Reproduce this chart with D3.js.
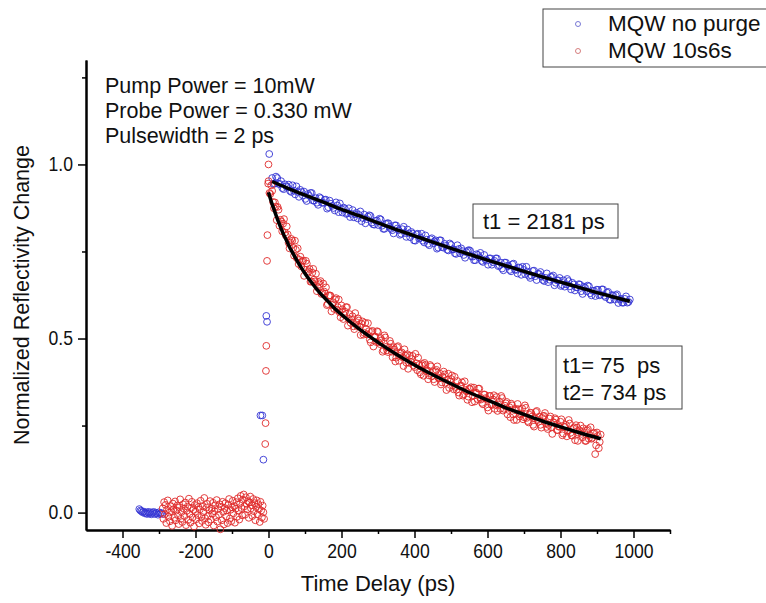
<!DOCTYPE html>
<html>
<head>
<meta charset="utf-8">
<script src="https://cdn.jsdelivr.net/npm/d3@7"></script>
<style>
  body { margin: 0; background: #fff; }
  svg { display: block; font-family: "Liberation Sans", Arial, sans-serif; }
</style>
</head>
<body>
<div id="chart"></div>
<script>
// MQW no purge: baseline before pump, rising edge, decay (two interleaved sweeps)
const bluePreStart = -354, bluePreStep = 3;
const bluePreY = [0.010,0.006,0.004,0.001,0.003,-0.002,0.000,-0.004,0.002,-0.003,0.001,-0.005,-0.001,0.002,-0.004,0.000,-0.002,-0.006,0.001,-0.003,-0.001,-0.004];
const blueRiseT = [-22,-17,-14,-6,-4,2];
const blueRiseY = [0.279,0.279,0.152,0.565,0.548,1.030];
const blueDecayStart = 10, blueDecayStep = 7;
const blueDecayY = [
  0.961,0.945,0.961,0.944,0.932,0.943,0.935,0.924,0.940,0.914,
  0.921,0.927,0.911,0.901,0.915,0.918,0.896,0.903,0.884,0.903,
  0.890,0.899,0.877,0.887,0.875,0.891,0.863,0.873,0.876,0.858,
  0.874,0.858,0.848,0.861,0.855,0.837,0.856,0.843,0.854,0.833,
  0.827,0.839,0.844,0.824,0.815,0.831,0.821,0.811,0.825,0.816,
  0.798,0.814,0.803,0.813,0.791,0.801,0.781,0.801,0.790,0.781,
  0.796,0.772,0.785,0.774,0.782,0.761,0.782,0.761,0.766,0.753,
  0.769,0.756,0.743,0.757,0.759,0.740,0.748,0.754,0.736,0.725,
  0.742,0.733,0.723,0.740,0.724,0.730,0.712,0.723,0.730,0.710,
  0.701,0.718,0.709,0.697,0.713,0.698,0.687,0.703,0.706,0.685,
  0.692,0.674,0.694,0.679,0.686,0.691,0.668,0.674,0.662,0.677,
  0.681,0.660,0.667,0.651,0.667,0.656,0.665,0.641,0.655,0.647,
  0.656,0.636,0.649,0.636,0.650,0.624,0.637,0.640,0.624,0.641,
  0.623,0.632,0.612,0.625,0.612,0.627,0.612,0.603,0.614,0.603,
  0.612
];
const blueDecay2Start = 13.5, blueDecay2Step = 7;
const blueDecay2Y = [
  0.944,0.965,0.944,0.952,0.929,0.937,0.942,0.921,0.925,0.937,
  0.907,0.921,0.922,0.895,0.910,0.918,0.896,0.890,0.906,0.890,
  0.898,0.873,0.896,0.881,0.868,0.882,0.888,0.862,0.872,0.860,
  0.849,0.869,0.857,0.845,0.865,0.846,0.831,0.850,0.852,0.828,
  0.838,0.826,0.842,0.815,0.829,0.831,0.815,0.802,0.825,0.811,
  0.801,0.821,0.792,0.802,0.806,0.782,0.799,0.787,0.801,0.776,
  0.784,0.768,0.788,0.779,0.758,0.782,0.763,0.772,0.755,0.773,
  0.756,0.745,0.768,0.745,0.751,0.732,0.752,0.752,0.735,0.725,
  0.740,0.746,0.720,0.727,0.712,0.730,0.719,0.730,0.708,0.718,
  0.696,0.718,0.708,0.693,0.715,0.697,0.704,0.683,0.697,0.706,
  0.680,0.681,0.695,0.668,0.685,0.678,0.665,0.687,0.669,0.677,
  0.653,0.667,0.674,0.654,0.649,0.671,0.650,0.660,0.638,0.647,
  0.655,0.628,0.646,0.652,0.630,0.637,0.622,0.640,0.626,0.641,
  0.619,0.634,0.611,0.623,0.624,0.602,0.614,0.603,0.621,0.605
];

// MQW 10s6s
const redPreStart = -290, redPreStep = 2;
const redPreY = [
  0.012,-0.018,0.030,-0.005,0.022,-0.030,0.008,0.035,-0.012,0.000,
  -0.025,0.018,0.004,-0.038,0.026,0.010,-0.015,0.032,-0.022,0.006,
  0.020,-0.008,-0.033,0.015,0.038,-0.018,0.002,-0.027,0.024,0.011,
  -0.010,0.029,-0.036,0.005,0.017,-0.021,0.040,-0.004,-0.029,0.013,
  0.031,-0.014,0.008,-0.040,0.022,0.003,-0.019,0.027,-0.007,0.016,
  -0.031,0.009,0.034,-0.012,-0.024,0.019,0.001,0.042,-0.016,-0.035,
  0.014,0.025,-0.009,-0.028,0.007,0.033,-0.020,0.011,-0.003,0.028,
  -0.037,0.004,0.021,-0.013,0.036,-0.026,0.010,-0.006,0.024,-0.048,
  0.017,-0.022,0.031,0.002,-0.034,0.013,0.027,-0.011,0.006,-0.030,
  0.022,0.039,-0.017,0.008,-0.025,0.015,0.034,-0.002,0.019,-0.029,
  0.011,0.030,-0.012,0.041,0.005,-0.020,0.026,0.048,0.013,-0.008,
  0.037,0.052,0.018,-0.006,0.044,0.025,0.009,0.033,-0.015,0.029,
  0.046,0.012,0.021,-0.010,0.039,0.004,0.027,-0.022,0.016,0.035,
  -0.005,0.024,0.010,-0.027,0.031,0.006,-0.014,0.020,0.001,-0.018
];
const redRiseT = [-9,-8,-7,-6,-4,-3,-1,0];
const redRiseY = [0.197,0.257,0.407,0.479,0.723,0.797,0.945,1.000];
const redDecayStart = 0, redDecayStep = 5;
const redDecayY = [
  0.952,0.915,0.924,0.874,0.879,0.878,0.824,0.836,0.830,0.804,
  0.822,0.775,0.776,0.781,0.738,0.755,0.759,0.726,0.707,0.724,
  0.698,0.715,0.693,0.663,0.689,0.669,0.686,0.647,0.656,0.628,
  0.658,0.629,0.596,0.623,0.623,0.597,0.585,0.616,0.590,0.575,
  0.595,0.556,0.577,0.590,0.557,0.545,0.564,0.527,0.547,0.558,
  0.534,0.542,0.511,0.545,0.512,0.521,0.489,0.522,0.505,0.490,
  0.519,0.484,0.495,0.467,0.503,0.466,0.474,0.485,0.446,0.468,
  0.445,0.478,0.450,0.460,0.421,0.451,0.455,0.430,0.433,0.450,
  0.418,0.429,0.445,0.403,0.423,0.393,0.424,0.409,0.394,0.420,
  0.405,0.375,0.410,0.388,0.399,0.374,0.405,0.373,0.382,0.358,
  0.384,0.365,0.390,0.353,0.345,0.363,0.374,0.340,0.352,0.324,
  0.356,0.360,0.335,0.319,0.344,0.356,0.331,0.315,0.339,0.329,
  0.302,0.335,0.311,0.325,0.298,0.332,0.310,0.298,0.329,0.298,
  0.314,0.282,0.303,0.313,0.282,0.294,0.266,0.297,0.282,0.299,
  0.274,0.301,0.263,0.281,0.286,0.252,0.271,0.292,0.261,0.252,
  0.272,0.278,0.257,0.240,0.270,0.245,0.260,0.271,0.237,0.247,
  0.261,0.222,0.246,0.252,0.235,0.256,0.222,0.242,0.208,0.244,
  0.229,0.250,0.216,0.231,0.206,0.240,0.223,0.212,0.227,0.168,
  0.230,0.185,0.224
];
const redDecay2Start = 2.5, redDecay2Step = 5;
const redDecay2Y = [
  0.918,0.940,0.892,0.891,0.840,0.870,0.841,0.808,0.843,0.796,
  0.799,0.759,0.786,0.760,0.781,0.731,0.714,0.735,0.721,0.680,
  0.723,0.688,0.700,0.664,0.700,0.664,0.636,0.662,0.665,0.631,
  0.635,0.647,0.599,0.624,0.578,0.604,0.612,0.582,0.612,0.561,
  0.584,0.568,0.590,0.537,0.570,0.554,0.535,0.573,0.536,0.552,
  0.510,0.549,0.516,0.527,0.544,0.497,0.519,0.477,0.506,0.521,
  0.489,0.501,0.462,0.509,0.476,0.461,0.493,0.462,0.475,0.434,
  0.475,0.436,0.457,0.446,0.469,0.431,0.413,0.451,0.441,0.423,
  0.456,0.409,0.424,0.397,0.427,0.430,0.406,0.383,0.424,0.392,
  0.383,0.406,0.420,0.385,0.368,0.390,0.397,0.352,0.399,0.376,
  0.394,0.354,0.361,0.378,0.336,0.365,0.336,0.377,0.348,0.333,
  0.355,0.317,0.359,0.344,0.326,0.356,0.325,0.311,0.339,0.326,
  0.293,0.335,0.309,0.337,0.309,0.292,0.319,0.335,0.293,0.307,
  0.318,0.295,0.274,0.308,0.266,0.298,0.312,0.276,0.285,0.268,
  0.308,0.272,0.259,0.287,0.276,0.247,0.289,0.266,0.275,0.244,
  0.277,0.286,0.246,0.252,0.276,0.226,0.258,0.267,0.237,0.247,
  0.268,0.227,0.246,0.219,0.266,0.229,0.221,0.245,0.251,0.206,
  0.236,0.226,0.242,0.206,0.236,0.212,0.245,0.215,0.229,0.193,
  0.220,0.203
];

// fitted curves
const blueFitT = [10,50,100,150,200,250,300,350,400,450,500,550,600,650,700,750,800,850,900,950,990];
const blueFitY = [0.951,0.933,0.912,0.892,0.871,0.852,0.832,0.813,0.795,0.777,0.759,0.742,0.725,0.709,0.693,0.677,0.662,0.647,0.632,0.618,0.607];
const redFitT = [0,10,20,30,40,50,60,70,80,90,100,120,140,160,180,200,250,300,350,400,450,500,550,600,650,700,750,800,850,910];
const redFitY = [0.920,0.886,0.856,0.828,0.802,0.780,0.758,0.739,0.720,0.703,0.687,0.658,0.632,0.610,0.588,0.569,0.526,0.489,0.455,0.424,0.396,0.370,0.345,0.323,0.301,0.282,0.263,0.246,0.230,0.212];

const xMajor = [-400,-200,0,200,400,600,800,1000];
const xMinor = [-300,-100,100,300,500,700,900,1100];
const yMajor = [0,0.5,1.0];
const yMinor = [0.25,0.75,1.25];

const seriesNames = ["MQW no purge", "MQW 10s6s"];
const infoLines = ["Pump Power = 10mW", "Probe Power = 0.330 mW", "Pulsewidth = 2 ps"];
const blueFitLabel = ["t1 = 2181 ps"];
const redFitLabel = ["t1= 75  ps", "t2= 734 ps"];

const blueColor = "#3434d4", redColor = "#e02a2a";

function uniform(start, step, ys) {
	return ys.map((v, i) => [start + i * step, v]);
}
function zipPts(ts, ys) {
	return ts.map((t, i) => [t, ys[i]]);
}

const bluePts = [].concat(
	uniform(bluePreStart, bluePreStep, bluePreY),
	zipPts(blueRiseT, blueRiseY),
	uniform(blueDecayStart, blueDecayStep, blueDecayY),
	uniform(blueDecay2Start, blueDecay2Step, blueDecay2Y));
const redPts = [].concat(
	uniform(redPreStart, redPreStep, redPreY),
	zipPts(redRiseT, redRiseY),
	uniform(redDecayStart, redDecayStep, redDecayY),
	uniform(redDecay2Start, redDecay2Step, redDecay2Y));

const W = 766, H = 603;
const svg = d3.select("#chart").append("svg")
	.attr("width", W)
	.attr("height", H);

const x = d3.scaleLinear().domain([-500, 1100]).range([86, 670]);
const y = d3.scaleLinear().domain([-0.05, 1.3]).range([530, 60]);

// squeeze tick labels a little, like the narrow font of the original
function squeeze(sel, k) {
	sel.each(function () {
		const len = this.getComputedTextLength();
		d3.select(this)
			.attr("textLength", len * k)
			.attr("lengthAdjust", "spacingAndGlyphs");
	});
}

// axes
const xAxisG = svg.append("g").attr("transform", `translate(0,${y.range()[0]})`);
xAxisG.call(d3.axisBottom(x).tickValues(xMinor).tickSize(4).tickSizeOuter(0).tickFormat(""));
xAxisG.append("g").call(d3.axisBottom(x).tickValues(xMajor).tickSize(8).tickSizeOuter(0).tickPadding(6).tickFormat(d => String(d)));

const yAxisG = svg.append("g").attr("transform", `translate(${x.range()[0]},0)`);
yAxisG.call(d3.axisLeft(y).tickValues(yMinor).tickSize(4).tickSizeOuter(0).tickFormat(""));
yAxisG.append("g").call(d3.axisLeft(y).tickValues(yMajor).tickSize(8).tickSizeOuter(0).tickPadding(5).tickFormat(d3.format(".1f")));

svg.selectAll(".domain").attr("stroke", "#000").attr("stroke-width", 2);
svg.selectAll(".tick line").attr("stroke", "#000").attr("stroke-width", 1.5);
svg.selectAll(".tick text")
	.attr("font-family", "Liberation Sans, Arial, sans-serif")
	.attr("font-size", 20)
	.attr("fill", "#111")
	.call(squeeze, 0.88);

svg.append("text")
	.attr("x", (x.range()[0] + x.range()[1]) / 2)
	.attr("y", 591)
	.attr("text-anchor", "middle")
	.attr("font-size", 22)
	.attr("fill", "#111")
	.text("Time Delay (ps)");

svg.append("text")
	.attr("transform", `translate(29,${(y.range()[0] + y.range()[1]) / 2}) rotate(-90)`)
	.attr("text-anchor", "middle")
	.attr("font-size", 21.5)
	.attr("fill", "#111")
	.text("Normalized Reflectivity Change");

// data
const pts = svg.append("g").attr("fill", "none").attr("stroke-width", 0.9);
pts.selectAll("circle.blue")
	.data(bluePts)
	.join("circle")
	.attr("class", "blue")
	.attr("cx", d => x(d[0]))
	.attr("cy", d => y(d[1]))
	.attr("r", 3.4)
	.attr("stroke", blueColor);
pts.selectAll("circle.red")
	.data(redPts)
	.join("circle")
	.attr("class", "red")
	.attr("cx", d => x(d[0]))
	.attr("cy", d => y(d[1]))
	.attr("r", 3.4)
	.attr("stroke", redColor);

const line = d3.line()
	.x(d => x(d[0]))
	.y(d => y(d[1]))
	.curve(d3.curveMonotoneX);

svg.append("path")
	.attr("d", line(zipPts(blueFitT, blueFitY)))
	.attr("fill", "none")
	.attr("stroke", "#000")
	.attr("stroke-width", 3.5);
svg.append("path")
	.attr("d", line(zipPts(redFitT, redFitY)))
	.attr("fill", "none")
	.attr("stroke", "#000")
	.attr("stroke-width", 3.5);

// annotations
svg.append("g").selectAll("text")
	.data(infoLines)
	.join("text")
	.attr("x", 105)
	.attr("y", (d, i) => 93 + i * 25)
	.attr("font-size", 21.5)
	.attr("fill", "#111")
	.text(d => d);

function labelBox(x0, y0, w, h, lines, tx, ty0, dy) {
	const g = svg.append("g");
	g.append("rect")
		.attr("x", x0).attr("y", y0)
		.attr("width", w).attr("height", h)
		.attr("fill", "#fff")
		.attr("stroke", "#444")
		.attr("stroke-width", 1);
	g.selectAll("text")
		.data(lines)
		.join("text")
		.attr("x", tx)
		.attr("y", (d, i) => ty0 + i * dy)
		.attr("font-size", 22)
		.attr("fill", "#111")
		.style("white-space", "pre")
		.text(d => d);
}
labelBox(473, 204, 145, 34, blueFitLabel, 483, 229, 0);
labelBox(556, 346, 126, 63, redFitLabel, 563, 373, 27);

// legend
const legend = svg.append("g");
legend.append("rect")
	.attr("x", 543).attr("y", 9)
	.attr("width", 230).attr("height", 58)
	.attr("fill", "#fff")
	.attr("stroke", "#444")
	.attr("stroke-width", 1);
const legendColors = ["#6a6ad0", "#d07070"];
seriesNames.forEach((name, i) => {
	legend.append("circle")
		.attr("cx", 578).attr("cy", 24 + i * 27)
		.attr("r", 2.5)
		.attr("fill", "none")
		.attr("stroke", legendColors[i])
		.attr("stroke-width", 0.9);
	legend.append("text")
		.attr("x", 608).attr("y", 31 + i * 27)
		.attr("font-size", 22.5)
		.attr("fill", "#111")
		.text(name);
});
</script>
</body>
</html>
